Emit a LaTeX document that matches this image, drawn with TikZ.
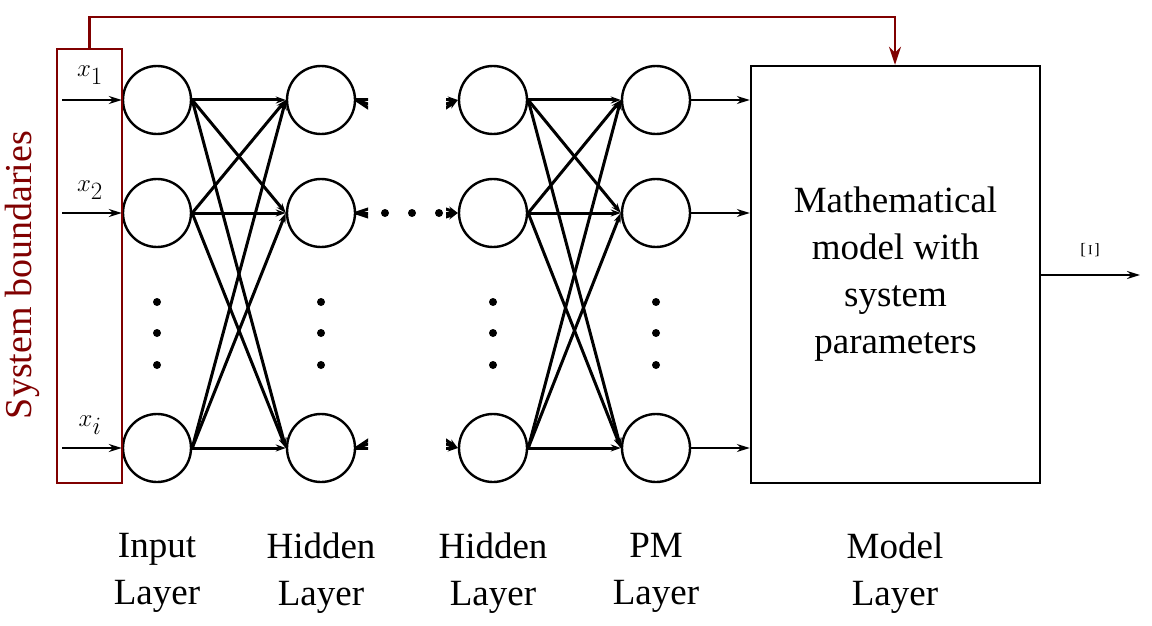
\documentclass[tikz,border=0pt]{standalone}
\usepackage{fontspec}
\setmainfont{Liberation Serif}
\usetikzlibrary{arrows.meta,calc}
\begin{document}
\begin{tikzpicture}[x=1pt,y=-1pt,
  neu/.style={circle,draw,line width=2.4pt,minimum size=68pt,inner sep=0pt},
  edge/.style={line width=3pt,-{Stealth[length=10pt,width=7pt]}},
  thin/.style={line width=1.5pt,-{Stealth[length=13pt,width=8pt]}},
  lbl/.style={font=\fontsize{37}{47}\selectfont,align=center},
  dot/.style={circle,fill,inner sep=0pt,minimum size=8pt}]
\useasboundingbox (0,0) rectangle (1152,626);
\foreach \c/\x in {a/157,b/321,c/493,d/656}{
  \node[neu] (\c1) at (\x,100) {};
  \node[neu] (\c2) at (\x,213) {};
  \node[neu] (\c3) at (\x,448) {};
  \foreach \yy [count=\k] in {302,333,365} \node[dot] (\c dot\k) at (\x,\yy) {};
}
\foreach \i in {1,2,3}\foreach \j in {1,2,3}{
  \draw[edge] (a\i.east) -- (b\j.west);
  \draw[edge] (c\i.east) -- (d\j.west);
}
\begin{scope}
\clip (340,0) rectangle (368,626);
\foreach \i in {1,2,3}\foreach \j in {1,2,3} \draw[edge] (b\i.east) -- ++(120,{(\j-\i)*40});
\end{scope}
\begin{scope}
\clip (446,0) rectangle (475,626);
\foreach \i in {1,2,3}\foreach \j in {1,2,3} \draw[edge] ($(c\j.west)+(-120,{(\i-\j)*40})$) -- (c\j.west);
\end{scope}
\foreach \xx [count=\k] in {385,412,439} \node[dot] (hd\k) at (\xx,213) {};
\node[draw,line width=2.4pt,minimum width=289pt,minimum height=417pt,inner sep=0pt] (M) at (895.5,274.5) {};
\node[lbl] (mt) at (M.center) {Mathematical\\model with\\system\\parameters};
\foreach \j in {1,2,3} \draw[thin] (d\j.east) -- (d\j.east -| M.west);
\coordinate (out) at (1140,275);
\draw[thin,line width=2pt] (M.east |- out) -- (out);
\node[rotate=-90,font=\fontsize{28}{30}\selectfont] (xi) at (1090,250) {$\Xi$};
\node[draw=red!50!black,line width=2.6pt,minimum width=65pt,minimum height=434pt,inner sep=0pt] (S) at (89.5,266) {};
\node[rotate=90,text=red!50!black,font=\fontsize{38}{40}\selectfont] (sl) at (22,275) {System boundaries};
\coordinate (t1) at (89.5,17);
\coordinate (t2) at (895,17);
\draw[red!50!black,line width=2.6pt,-{Stealth[length=18pt,width=12pt]}] (S.north -| t1) -- (t1) -- (t2) -- (t2 |- M.north);
\foreach \j/\t/\yy in {1/1/75,2/2/190,3/i/425}{
  \coordinate (in\j) at (62,0 |- a\j);
  \draw[thin,line width=2pt] (in\j) -- (a\j.west);
  \node[font=\fontsize{44}{46}\selectfont] (x\j) at (90,\yy) {$x_{\t}$};
}
\node[lbl] (L1) at (157,573) {Input\\Layer};
\node[lbl] (L2) at (321,573) {Hidden\\Layer};
\node[lbl] (L3) at (493,573) {Hidden\\Layer};
\node[lbl] (L4) at (656,573) {PM\\Layer};
\node[lbl] (L5) at (895,573) {Model\\Layer};
\end{tikzpicture}
\end{document}
